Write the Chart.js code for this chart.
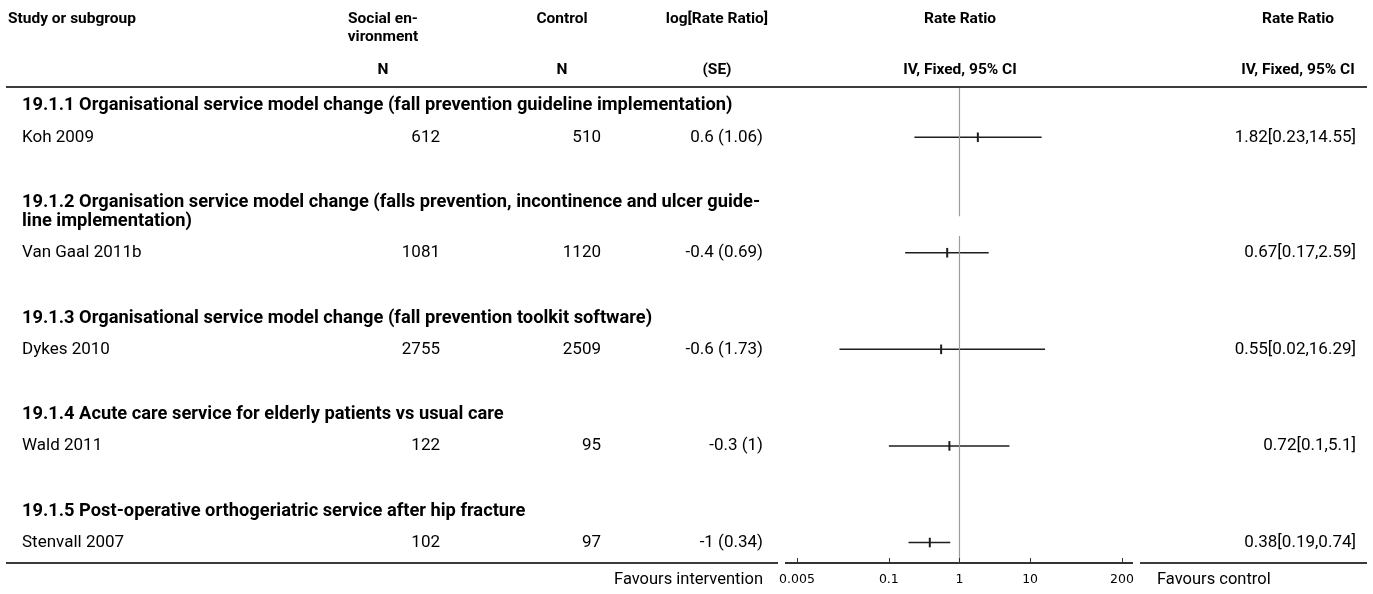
<!DOCTYPE html>
<html>
<head>
<meta charset="utf-8">
<script src="https://cdn.jsdelivr.net/npm/chart.js@4.4.0/dist/chart.umd.min.js"></script>
<style>
  html, body { margin: 0; padding: 0; background: #fff; overflow: hidden; }
  canvas { display: block; }
</style>
</head>
<body>
<canvas id="forestChart" width="1373" height="594"></canvas>
<script>
const groups = [
  ["19.1.1 Organisational service model change (fall prevention guideline implementation)"],
  ["19.1.2 Organisation service model change (falls prevention, incontinence and ulcer guide-", "line implementation)"],
  ["19.1.3 Organisational service model change (fall prevention toolkit software)"],
  ["19.1.4 Acute care service for elderly patients vs usual care"],
  ["19.1.5 Post-operative orthogeriatric service after hip fracture"]
];
const studies = ["Koh 2009", "Van Gaal 2011b", "Dykes 2010", "Wald 2011", "Stenvall 2007"];
const socialN = [612, 1081, 2755, 122, 102];
const controlN = [510, 1120, 2509, 95, 97];
const logRR = [0.6, -0.4, -0.6, -0.3, -1];
const logSE = [1.06, 0.69, 1.73, 1, 0.34];
const rateRatio = [1.82, 0.67, 0.55, 0.72, 0.38];
const ciLow = [0.23, 0.17, 0.02, 0.1, 0.19];
const ciHigh = [14.55, 2.59, 16.29, 5.1, 0.74];
const xTicks = [0.005, 0.1, 1, 10, 200];
const xTickLabels = ["0.005", "0.1", "1", "10", "200"];

// row layout, in table-row units
let headerRows = [], studyY = [];
let cursor = 0.56;
groups.forEach(g => {
  g.forEach((line, j) => {
    headerRows.push({ text: line, y: cursor });
    cursor += (j < g.length - 1) ? 0.59 : 0.98;
  });
  studyY.push(cursor);
  cursor += 2.04;
});
const yMax = studyY[studyY.length - 1] + 0.64;
const wrapLine = headerRows[2].y; // second line of the 2-line heading breaks the null line

const regFont = '17px Roboto';
const favFont = '16.5px Roboto';
const headFont = 'bold 15.5px Roboto';
const groupFont = 'bold 18.3px Roboto';

let tablePlugin = {
  id: 'forestTable',
  afterDraw(chart) {
    const ctx = chart.ctx;
    const xs = chart.scales.x, ys = chart.scales.y;
    ctx.save();
    ctx.fillStyle = '#000';
    ctx.textBaseline = 'middle';
    function txt(s, px, py, align, font) {
      ctx.font = font; ctx.textAlign = align; ctx.fillText(s, px, py);
    }
    function rule(x1, y1, x2, y2, w, c) {
      ctx.beginPath(); ctx.lineWidth = w; ctx.strokeStyle = c;
      ctx.moveTo(x1, y1); ctx.lineTo(x2, y2); ctx.stroke();
    }
    // column headers
    txt("Study or subgroup", 8, 19, 'left', headFont);
    txt("Social en-", 383, 19, 'center', headFont);
    txt("vironment", 383, 37, 'center', headFont);
    txt("Control", 562, 19, 'center', headFont);
    txt("log[Rate Ratio]", 717, 19, 'center', headFont);
    txt("Rate Ratio", 960, 19, 'center', headFont);
    txt("Rate Ratio", 1298, 19, 'center', headFont);
    txt("N", 383, 70, 'center', headFont);
    txt("N", 562, 70, 'center', headFont);
    txt("(SE)", 717, 70, 'center', headFont);
    txt("IV, Fixed, 95% CI", 960, 70, 'center', headFont);
    txt("IV, Fixed, 95% CI", 1298, 70, 'center', headFont);
    rule(6, 87, 1367, 87, 2, '#3c3c3c');

    // subgroup headings
    headerRows.forEach(h => txt(h.text, 22, ys.getPixelForValue(h.y), 'left', groupFont));

    // study rows
    studies.forEach((s, i) => {
      const py = ys.getPixelForValue(studyY[i]);
      txt(s, 22, py, 'left', regFont);
      txt(String(socialN[i]), 440, py, 'right', regFont);
      txt(String(controlN[i]), 601, py, 'right', regFont);
      txt(logRR[i] + " (" + logSE[i] + ")", 763, py, 'right', regFont);
      txt(rateRatio[i] + "[" + ciLow[i] + "," + ciHigh[i] + "]", 1356, py, 'right', regFont);
    });

    // bottom rule either side of the axis
    const base = chart.chartArea.bottom;
    rule(6, base, 778, base, 2, '#3c3c3c');
    rule(1140, base, 1367, base, 2, '#3c3c3c');

    // ticks point up into the plot
    xTicks.forEach(v => {
      const px = Math.round(xs.getPixelForValue(v)) + 0.5;
      rule(px, base - 5, px, base, 1, '#333');
    });

    txt("Favours intervention", 763, 580, 'right', favFont);
    txt("Favours control", 1157, 580, 'left', favFont);
    ctx.restore();
  }
};

const ctxF = document.getElementById("forestChart").getContext('2d');

let ciSets = studies.map((s, i) => ({
  label: s,
  data: [{ x: ciLow[i], y: studyY[i] }, { x: ciHigh[i], y: studyY[i] }],
  showLine: true,
  borderColor: '#1e1e1e',
  borderWidth: 1.5,
  pointRadius: 0
}));

let myForest = new Chart(ctxF, {
  type: 'scatter',
  data: {
    datasets: [
      {
        label: 'null line',
        data: [{ x: 1, y: 0 }, { x: 1, y: wrapLine - 0.16 }, { x: 1, y: null }, { x: 1, y: wrapLine + 0.46 }, { x: 1, y: yMax }],
        showLine: true,
        spanGaps: false,
        borderColor: '#9c9c9c',
        borderWidth: 1.2,
        pointRadius: 0
      },
      ...ciSets,
      {
        label: 'Rate Ratio',
        data: studies.map((s, i) => ({ x: rateRatio[i], y: studyY[i] })),
        pointStyle: 'line',
        pointRotation: 90,
        pointRadius: 4.8,
        pointBorderWidth: 2,
        pointBorderColor: '#1e1e1e',
        pointBackgroundColor: '#1e1e1e'
      }
    ]
  },
  options: {
    responsive: false,
    animation: false,
    layout: { padding: { left: 786, right: 241, top: 88, bottom: 0 } },
    plugins: { legend: { display: false }, tooltip: { enabled: false } },
    scales: {
      x: {
        type: 'logarithmic',
        min: 0.0035,
        max: 277,
        afterBuildTicks: scale => { scale.ticks = xTicks.map(v => ({ value: v })); },
        afterFit: scale => { scale.height = 31; },
        grid: { display: false, drawTicks: false },
        border: { display: true, color: '#333', width: 2 },
        ticks: {
          autoSkip: false,
          maxRotation: 0,
          padding: 9,
          color: '#000',
          font: { family: 'DejaVu Sans', size: 12.5 },
          callback: (v, i) => xTickLabels[i]
        }
      },
      y: {
        type: 'linear',
        min: 0,
        max: yMax,
        reverse: true,
        display: false
      }
    }
  },
  plugins: [tablePlugin]
});
</script>
</body>
</html>
